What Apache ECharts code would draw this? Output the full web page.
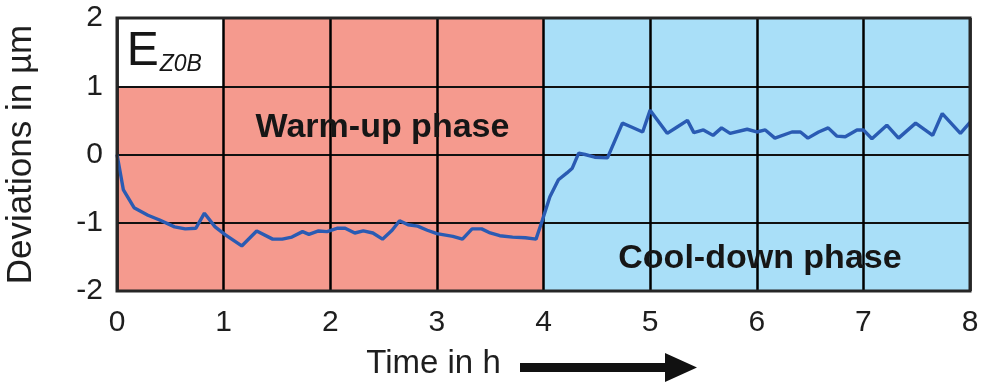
<!DOCTYPE html>
<html>
<head>
<meta charset="utf-8">
<script src="https://cdn.jsdelivr.net/npm/echarts@6/dist/echarts.min.js"></script>
<style>
  html, body { margin: 0; padding: 0; background: #fff; }
  #chart { width: 983px; height: 385px; }
</style>
</head>
<body>
<div id="chart"></div>
<script>
// Measured deviation of the Z0B error over time (hours, micrometres)
const timeH = [
  0, 0.06, 0.16, 0.29, 0.40, 0.54, 0.64, 0.74, 0.82, 0.92,
  1.02, 1.17, 1.31, 1.46, 1.55, 1.64, 1.74, 1.80, 1.89, 1.97,
  2.07, 2.14, 2.23, 2.31, 2.40, 2.49, 2.58, 2.65, 2.73, 2.82,
  2.91, 3.00, 3.15, 3.24, 3.33, 3.42, 3.50, 3.59, 3.71, 3.83,
  3.93, 3.99, 4.06, 4.14, 4.22, 4.27, 4.33, 4.39, 4.48, 4.60,
  4.74, 4.83, 4.93, 5.00, 5.16, 5.25, 5.35, 5.41, 5.50, 5.59,
  5.67, 5.75, 5.91, 6.00, 6.08, 6.17, 6.33, 6.41, 6.48, 6.58,
  6.67, 6.75, 6.83, 6.94, 7.00, 7.08, 7.22, 7.33, 7.49, 7.65,
  7.74, 7.91, 8.00
];
const deviationUm = [
  0, -0.52, -0.78, -0.89, -0.96, -1.06, -1.09, -1.08, -0.86, -1.06,
  -1.18, -1.34, -1.12, -1.24, -1.24, -1.21, -1.13, -1.17, -1.12, -1.13,
  -1.08, -1.08, -1.15, -1.12, -1.15, -1.24, -1.11, -0.97, -1.03, -1.05,
  -1.11, -1.16, -1.20, -1.24, -1.09, -1.09, -1.15, -1.19, -1.21, -1.22,
  -1.24, -0.96, -0.62, -0.37, -0.27, -0.20, 0.02, 0.00, -0.04, -0.05,
  0.46, 0.40, 0.33, 0.65, 0.31, 0.40, 0.50, 0.32, 0.36, 0.28,
  0.39, 0.31, 0.37, 0.33, 0.36, 0.24, 0.33, 0.33, 0.24, 0.33,
  0.39, 0.27, 0.26, 0.36, 0.36, 0.23, 0.43, 0.24, 0.46, 0.28,
  0.60, 0.31, 0.47
];
// Phases: [start h, end h, label]
const phases = [
  [0, 4, 'Warm-up phase'],
  [4, 8, 'Cool-down phase']
];
const xTicks = [0, 1, 2, 3, 4, 5, 6, 7, 8];
const yTicks = [-2, -1, 0, 1, 2];

const chart = echarts.init(document.getElementById('chart'));
const seriesData = timeH.map((t, i) => [t, deviationUm[i]]);
const font = 'Liberation Sans, Arial, sans-serif';
const ink = '#161616';

chart.setOption({
  animation: false,
  grid: {
    left: 117, right: 13, top: 18, bottom: 94,
    outerBoundsMode: 'none', containLabel: false,
    show: true, borderColor: '#262626', borderWidth: 3,
    backgroundColor: 'transparent', z: 6
  },
  xAxis: {
    type: 'value', min: xTicks[0], max: xTicks[xTicks.length - 1], interval: 1,
    z: 4,
    axisLine: { show: false },
    axisTick: { show: false },
    axisLabel: { color: '#1e1e1e', fontSize: 30, fontFamily: font, margin: 17 },
    splitLine: { show: true, lineStyle: { color: '#000', width: 2.5 } },
    name: 'Time in h', nameLocation: 'middle', nameGap: 56,
    nameTextStyle: { color: '#1e1e1e', fontSize: 33, fontFamily: font, padding: [0, 220, 0, 0] }
  },
  yAxis: {
    type: 'value', min: yTicks[0], max: yTicks[yTicks.length - 1], interval: 1,
    z: 4,
    axisLine: { show: false },
    axisTick: { show: false },
    axisLabel: { color: '#1e1e1e', fontSize: 30, fontFamily: font, margin: 14 },
    splitLine: { show: true, lineStyle: { color: '#111', width: 1.8 } },
    name: 'Deviations in µm', nameLocation: 'middle', nameGap: 78,
    nameTextStyle: { color: '#1e1e1e', fontSize: 35, fontFamily: font }
  },
  series: [
    {
      // coloured phase backgrounds and the white caption cell
      type: 'line', data: [], z: 1, silent: true,
      markArea: {
        silent: true,
        data: [
          [{ xAxis: phases[0][0], yAxis: yTicks[0], itemStyle: { color: '#f59a8e' } }, { xAxis: phases[0][1], yAxis: yTicks[4] }],
          [{ xAxis: phases[1][0], yAxis: yTicks[0], itemStyle: { color: '#a9dff8' } }, { xAxis: phases[1][1], yAxis: yTicks[4] }],
          [{ xAxis: 0, yAxis: 1, itemStyle: { color: '#ffffff' } }, { xAxis: 1, yAxis: 2 }]
        ]
      }
    },
    {
      type: 'line', data: seriesData, z: 5, symbol: 'none', smooth: false,
      lineStyle: { color: '#2a5bb3', width: 3.4 }
    },
    {
      // phase captions
      type: 'scatter', z: 7, symbolSize: 0, silent: true,
      itemStyle: { opacity: 1 },
      data: [[2.49, 0.40, phases[0][2]], [6.03, -1.52, phases[1][2]]],
      label: {
        show: true, position: 'inside', formatter: p => p.data[2],
        fontSize: 34, fontWeight: 'bold', color: ink, fontFamily: font
      }
    },
    {
      // caption cell label
      type: 'scatter', z: 7, symbolSize: 0, silent: true,
      itemStyle: { opacity: 1 },
      data: [[0.5, 1.5, 'E']],
      label: {
        show: true, position: 'inside', offset: [-6, 0], color: ink,
        formatter: '{e|E}{s|Z0B}',
        rich: {
          e: { fontSize: 48, color: ink, fontFamily: font, verticalAlign: 'bottom' },
          s: { fontSize: 23, fontStyle: 'italic', color: ink, fontFamily: font, padding: [22, 0, 0, 1], verticalAlign: 'bottom' }
        }
      }
    }
  ],
  graphic: [
    {
      type: 'polygon', z: 10,
      shape: { points: [[520, 363], [665, 363], [665, 353], [697, 367.5], [665, 382], [665, 372], [520, 372]] },
      style: { fill: '#111' }
    }
  ]
});
</script>
</body>
</html>
